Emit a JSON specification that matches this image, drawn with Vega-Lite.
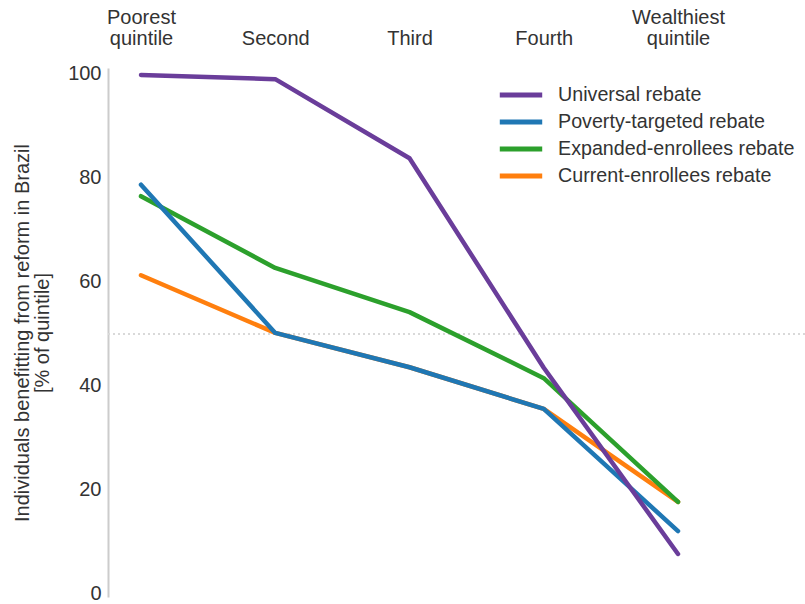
{
  "$schema": "https://vega.github.io/schema/vega-lite/v6.json",
  "width": 697,
  "height": 529,
  "autosize": {"type": "none"},
  "padding": {"left": 108, "top": 68, "right": 0, "bottom": 7},
  "background": "white",
  "config": {
    "view": {"stroke": null},
    "font": "Liberation Sans",
    "axis": {"labelFont": "Liberation Sans", "titleFont": "Liberation Sans"},
    "legend": {"labelFont": "Liberation Sans"}
  },
  "data": {
    "values": [
      {"series": "Current-enrollees rebate", "quintile": "Poorest quintile", "value": 61.3},
      {"series": "Current-enrollees rebate", "quintile": "Second", "value": 50.2},
      {"series": "Current-enrollees rebate", "quintile": "Third", "value": 43.6},
      {"series": "Current-enrollees rebate", "quintile": "Fourth", "value": 35.6},
      {"series": "Current-enrollees rebate", "quintile": "Wealthiest quintile", "value": 17.7},
      {"series": "Expanded-enrollees rebate", "quintile": "Poorest quintile", "value": 76.5},
      {"series": "Expanded-enrollees rebate", "quintile": "Second", "value": 62.7},
      {"series": "Expanded-enrollees rebate", "quintile": "Third", "value": 54.2},
      {"series": "Expanded-enrollees rebate", "quintile": "Fourth", "value": 41.5},
      {"series": "Expanded-enrollees rebate", "quintile": "Wealthiest quintile", "value": 17.7},
      {"series": "Poverty-targeted rebate", "quintile": "Poorest quintile", "value": 78.7},
      {"series": "Poverty-targeted rebate", "quintile": "Second", "value": 50.2},
      {"series": "Poverty-targeted rebate", "quintile": "Third", "value": 43.6},
      {"series": "Poverty-targeted rebate", "quintile": "Fourth", "value": 35.6},
      {"series": "Poverty-targeted rebate", "quintile": "Wealthiest quintile", "value": 12.1},
      {"series": "Universal rebate", "quintile": "Poorest quintile", "value": 99.8},
      {"series": "Universal rebate", "quintile": "Second", "value": 99.0},
      {"series": "Universal rebate", "quintile": "Third", "value": 83.8},
      {"series": "Universal rebate", "quintile": "Fourth", "value": 43.5},
      {"series": "Universal rebate", "quintile": "Wealthiest quintile", "value": 7.7}
    ]
  },
  "layer": [
    {
      "mark": {"type": "rule", "color": "#d9d9d9", "strokeWidth": 1.5, "strokeDash": [2, 3]},
      "encoding": {"y": {"datum": 50, "type": "quantitative"}}
    },
    {
      "mark": {"type": "line", "strokeWidth": 4.5, "strokeCap": "round", "strokeJoin": "round"},
      "encoding": {
        "x": {
          "field": "quintile",
          "type": "ordinal",
          "sort": ["Poorest quintile", "Second", "Third", "Fourth", "Wealthiest quintile"],
          "scale": {"type": "point", "range": [33, 570], "padding": 0},
          "axis": {
            "orient": "top",
            "title": null,
            "domain": false,
            "ticks": false,
            "grid": false,
            "labelFontSize": 20,
            "labelColor": "#333333",
            "labelPadding": 41,
            "labelLineHeight": 21,
            "labelBaseline": "bottom",
            "labelAngle": 0,
            "labelExpr": "datum.value == 'Poorest quintile' ? ['Poorest', 'quintile'] : datum.value == 'Wealthiest quintile' ? ['Wealthiest', 'quintile'] : ['', datum.label]"
          }
        },
        "y": {
          "field": "value",
          "type": "quantitative",
          "scale": {"domain": [-0.58, 101.15], "nice": false, "zero": false},
          "axis": {
            "values": [0, 20, 40, 60, 80, 100],
            "grid": false,
            "ticks": false,
            "domainColor": "#cccccc",
            "domainWidth": 2,
            "labelFontSize": 20,
            "labelColor": "#333333",
            "labelPadding": 7,
            "title": ["Individuals benefitting from reform in Brazil", "[% of quintile]"],
            "titleFontSize": 20,
            "titleFontWeight": "normal",
            "titleColor": "#333333",
            "titleLineHeight": 20,
            "titlePadding": 15
          }
        },
        "color": {
          "field": "series",
          "type": "nominal",
          "scale": {
            "domain": ["Universal rebate", "Poverty-targeted rebate", "Expanded-enrollees rebate", "Current-enrollees rebate"],
            "range": ["#6a3d9a", "#1f77b4", "#2ca02c", "#ff7f0e"]
          },
          "legend": {
            "title": null,
            "orient": "none",
            "legendX": 403,
            "legendY": 17,
            "padding": 0,
            "symbolType": "M-3,0H3",
            "symbolSize": 200,
            "symbolStrokeWidth": 5,
            "labelFontSize": 19.7,
            "labelColor": "#333333",
            "labelOffset": 27,
            "labelLimit": 0,
            "rowPadding": 7
          }
        }
      }
    }
  ]
}
